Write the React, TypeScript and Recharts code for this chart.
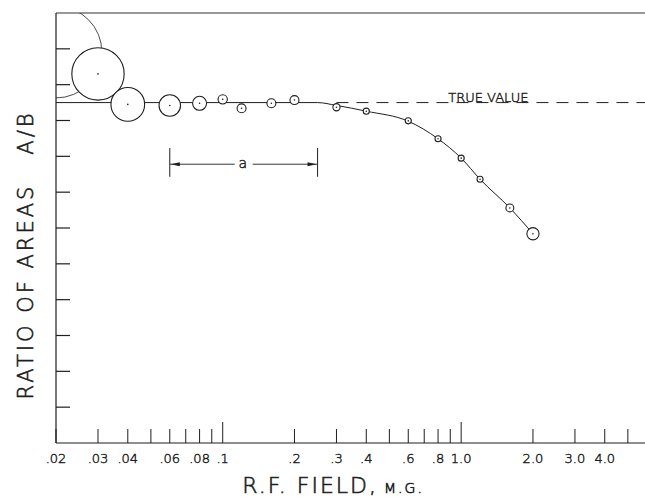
import { ComposedChart, Line, Scatter, XAxis, YAxis, ReferenceLine, ReferenceDot } from 'recharts'

// measured points: field (M.G.), ratio A/B (axis units, one unit per tick), error radius (same units)
const FIELD = [0.02, 0.03, 0.04, 0.06, 0.08, 0.1, 0.12, 0.16, 0.2, 0.3, 0.4, 0.6, 0.8, 1.0, 1.2, 1.6, 2.0]
const RATIO = [10.91, 10.3, 9.45, 9.42, 9.48, 9.59, 9.34, 9.48, 9.57, 9.37, 9.26, 8.99, 8.49, 7.95, 7.36, 6.56, 5.84]
const ERROR = [1.28, 0.73, 0.47, 0.3, 0.195, 0.13, 0.125, 0.125, 0.125, 0.1, 0.085, 0.085, 0.085, 0.085, 0.085, 0.11, 0.17]

// hand-drawn curve through the points
const CURVE_X = [0.02, 0.25, 0.3, 0.4, 0.6, 0.8, 1.0, 1.2, 1.6, 2.0]
const CURVE_Y = [9.5, 9.5, 9.42, 9.26, 8.98, 8.49, 7.95, 7.36, 6.56, 5.84]

const TRUE_VALUE = 9.5
const TRUE_FROM = 0.3
const A_RANGE = [0.06, 0.25]
const A_LEVEL = 7.78
const A_BAR = [7.43, 8.23]

const X_DOMAIN = [0.02, 5.9]
const Y_DOMAIN = [0, 12]
const X_TICKS = [0.02, 0.03, 0.04, 0.05, 0.06, 0.07, 0.08, 0.09, 0.1, 0.2, 0.3, 0.4, 0.5, 0.6, 0.7, 0.8, 0.9, 1, 2, 3, 4, 5]
const X_LABELS: Record<string, string> = {
  '0.02': '.02', '0.03': '.03', '0.04': '.04', '0.06': '.06', '0.08': '.08', '0.1': '.1',
  '0.2': '.2', '0.3': '.3', '0.4': '.4', '0.6': '.6', '0.8': '.8',
  '1': '1.0', '2': '2.0', '3': '3.0', '4': '4.0',
}
const Y_TICKS = [1, 2, 3, 4, 5, 6, 7, 8, 9, 10, 11]

const points = FIELD.map((x, i) => ({ x, y: RATIO[i], err: ERROR[i] }))
const curve = CURVE_X.map((x, i) => ({ x, y: CURVE_Y[i] }))

const W = 645, H = 497
const LEFT = 56, TOP = 13, X_AXIS_H = 54
const PLOT_W = W - LEFT, PLOT_H = H - TOP - X_AXIS_H
const PX_PER_UNIT = PLOT_H / (Y_DOMAIN[1] - Y_DOMAIN[0])
const INK = '#1e1e1e'
const FONT = '"DejaVu Sans", "Liberation Sans", sans-serif'
// thin lettering, darkened with a hairline stroke
const LETTER = { fontFamily: FONT, fontWeight: 200, fill: INK, stroke: INK }

function XTick({ x, y, payload }: any) {
  const v = payload.value
  const tall = v === 0.1 || v === 1
  const lab = X_LABELS[String(v)]
  return (
    <g>
      <line x1={x} x2={x} y1={y} y2={y - (tall ? 21 : 14)} stroke={INK} strokeWidth={1} />
      {lab && (
        <text x={x} y={y + 20} textAnchor="middle" fontSize={13} {...LETTER} strokeWidth={0.45}>{lab}</text>
      )}
    </g>
  )
}

function YTick({ x, y }: any) {
  return <line x1={x} x2={x + 14} y1={y} y2={y} stroke={INK} strokeWidth={1.2} />
}

function Bubble({ cx, cy, payload }: any) {
  const r = payload.err * PX_PER_UNIT
  const id = `clip-${String(payload.x).replace('.', '_')}`
  const open = payload.x <= X_DOMAIN[0]
  return (
    <g>
      <defs>
        <clipPath id={id}><rect x={LEFT} y={TOP} width={PLOT_W} height={PLOT_H} /></clipPath>
      </defs>
      <circle cx={cx} cy={cy} r={r} fill={open ? 'none' : '#fff'} stroke={INK} strokeWidth={open ? 0.8 : 1.1} clipPath={`url(#${id})`} />
      {!open && <circle cx={cx} cy={cy} r={0.8} fill={INK} />}
    </g>
  )
}

function Span({ x1, y1, x2, y2 }: any) {
  const mid = (x1 + x2) / 2
  const gap = 9
  return (
    <g>
      <line x1={x1} y1={y1} x2={mid - gap} y2={y2} stroke={INK} strokeWidth={0.9} />
      <line x1={mid + gap} y1={y1} x2={x2} y2={y2} stroke={INK} strokeWidth={0.9} />
      <polygon points={`${x1 + 1},${y1} ${x1 + 10},${y1 - 2} ${x1 + 10},${y1 + 2}`} fill={INK} />
      <polygon points={`${x2 - 1},${y2} ${x2 - 10},${y2 - 2} ${x2 - 10},${y2 + 2}`} fill={INK} />
      <text x={mid - 1} y={y1 + 4} textAnchor="middle" fontSize={14} {...LETTER} strokeWidth={0.45}>a</text>
    </g>
  )
}

export default function App() {
  return (
    <div style={{ position: 'absolute', left: 0, top: 0, width: W, height: H, background: '#fff' }}>
      <ComposedChart width={W} height={H} margin={{ top: TOP, right: 0, bottom: 0, left: 0 }}>
        <XAxis
          dataKey="x" type="number" scale="log" domain={X_DOMAIN} allowDataOverflow
          ticks={X_TICKS} interval={0} tickSize={0} tickMargin={0} tickLine={false}
          tick={<XTick />} height={X_AXIS_H} axisLine={{ stroke: INK, strokeWidth: 1.2 }}
          label={{
            content: () => (
              <text x={333} y={493} textAnchor="middle" {...LETTER} strokeWidth={0.6} letterSpacing={2}>
                <tspan fontSize={22}>R.F. FIELD,</tspan>
                <tspan fontSize={14} dx={6}>M.G.</tspan>
              </text>
            ),
          }}
        />
        <YAxis
          type="number" domain={Y_DOMAIN} ticks={Y_TICKS} interval={0} width={LEFT}
          tickSize={0} tickMargin={0} tickLine={false} tick={<YTick />}
          axisLine={{ stroke: INK, strokeWidth: 1.2 }}
          label={{
            content: () => (
              <text x={33} y={255} transform="rotate(-90 33 255)" textAnchor="middle" fontSize={21} {...LETTER} strokeWidth={0.6} letterSpacing={3}>
                {'RATIO OF AREAS\u00a0\u00a0\u00a0A/B'}
              </text>
            ),
          }}
        />
        <ReferenceLine y={Y_DOMAIN[1]} stroke="#333" strokeWidth={1} />
        <ReferenceLine segment={[{ x: TRUE_FROM, y: TRUE_VALUE }, { x: X_DOMAIN[1], y: TRUE_VALUE }]} stroke={INK} strokeWidth={1} strokeDasharray="12 8" />
        <ReferenceDot
          x={1.3} y={TRUE_VALUE} r={0} fill="none" stroke="none"
          label={{
            content: ({ viewBox }: any) => (
              <text x={viewBox.x} y={viewBox.y - 1} textAnchor="middle" fontSize={13} {...LETTER} strokeWidth={0.45}>TRUE VALUE</text>
            ),
          }}
        />
        <ReferenceLine segment={[{ x: A_RANGE[0], y: A_LEVEL }, { x: A_RANGE[1], y: A_LEVEL }]} shape={(p: any) => <Span {...p} />} />
        <ReferenceLine segment={[{ x: A_RANGE[0], y: A_BAR[0] }, { x: A_RANGE[0], y: A_BAR[1] }]} stroke={INK} strokeWidth={1} />
        <ReferenceLine segment={[{ x: A_RANGE[1], y: A_BAR[0] }, { x: A_RANGE[1], y: A_BAR[1] }]} stroke={INK} strokeWidth={1} />
        <Line data={curve} dataKey="y" type="monotone" stroke={INK} strokeWidth={1} dot={false} isAnimationActive={false} />
        <Scatter data={points} dataKey="y" shape={<Bubble />} isAnimationActive={false} />
      </ComposedChart>
    </div>
  )
}
